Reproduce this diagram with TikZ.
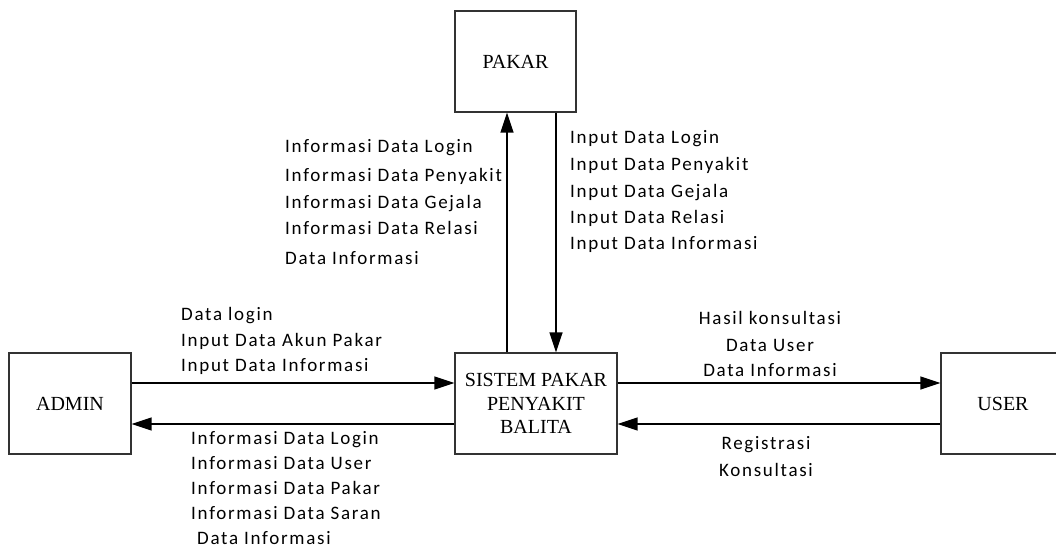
\documentclass[tikz,border=0pt]{standalone}
\usepackage{fontspec}
\setmainfont{Liberation Serif}
\newfontfamily\lblfont[LetterSpace=9]{Carlito}
\usetikzlibrary{arrows.meta}
\tikzset{
  entity/.style={draw=black!80, line width=1.2pt, inner sep=0pt, align=center,
    font=\fontsize{20}{23.5}\selectfont},
  flow/.style={line width=1.4pt, -{Triangle[length=20pt,width=13pt]}},
  lbl/.style={font=\lblfont\fontsize{19}{22}\selectfont, inner sep=0pt},
}
\begin{document}
\begin{tikzpicture}[x=1pt,y=-1pt]
\useasboundingbox (0,0) rectangle (1056,556);
\clip (0,0) rectangle (1056,556);

% external entities and the process
\node[entity, minimum width=121pt, minimum height=101pt] (pakar) at (515.5,61.5) {PAKAR};
\node[entity, minimum width=122pt, minimum height=101pt] (admin) at (70,403.5) {ADMIN};
\node[entity, minimum width=162pt, minimum height=101pt] (sistem) at (536,403.5) {SISTEM PAKAR\\PENYAKIT\\BALITA};
\node[entity, minimum width=124pt, minimum height=101pt] (user) at (1003,403.5) {USER};

% data flows
\draw[flow] ([yshift=20.5pt]admin.east) -- ([yshift=20.5pt]sistem.west);
\draw[flow] ([yshift=-20.5pt]sistem.west) -- ([yshift=-20.5pt]admin.east);
\draw[flow] ([yshift=20.5pt]sistem.east) -- ([yshift=20.5pt]user.west);
\draw[flow] ([yshift=-20.5pt]user.west) -- ([yshift=-20.5pt]sistem.east);
\draw[flow] ([xshift=-29pt]sistem.north) -- ([xshift=-29pt]sistem.north |- pakar.south);
\draw[flow] ([xshift=20pt]sistem.north |- pakar.south) -- ([xshift=20pt]sistem.north);

% flow labels: sistem -> pakar
\foreach \t/\yy [count=\i] in {Informasi Data Login/153, Informasi Data Penyakit/181,
    Informasi Data Gejala/208, Informasi Data Relasi/234, Data Informasi/264}
  \node[lbl, anchor=base west] (po\i) at (285,\yy) {\t};

% pakar -> sistem
\foreach \t/\yy [count=\i] in {Input Data Login/144, Input Data Penyakit/171,
    Input Data Gejala/197, Input Data Relasi/223, Input Data Informasi/249}
  \node[lbl, anchor=base west] (pi\i) at (570,\yy) {\t};

% admin -> sistem
\foreach \t/\yy [count=\i] in {Data login/320, Input Data Akun Pakar/346,
    Input Data Informasi/371}
  \node[lbl, anchor=base west] (ai\i) at (181,\yy) {\t};

% sistem -> admin
\foreach \t/\xx/\yy [count=\i] in {Informasi Data Login/191/444, Informasi Data User/191/469,
    Informasi Data Pakar/191/494, Informasi Data Saran/191/519, Data Informasi/197/544}
  \node[lbl, anchor=base west] (ao\i) at (\xx,\yy) {\t};

% sistem -> user
\foreach \t/\yy [count=\i] in {Hasil konsultasi/324, Data User/351, Data Informasi/376}
  \node[lbl, anchor=base] (uo\i) at (770,\yy) {\t};

% user -> sistem
\foreach \t/\yy [count=\i] in {Registrasi/449, Konsultasi/476}
  \node[lbl, anchor=base] (ui\i) at (766,\yy) {\t};
\end{tikzpicture}
\end{document}
